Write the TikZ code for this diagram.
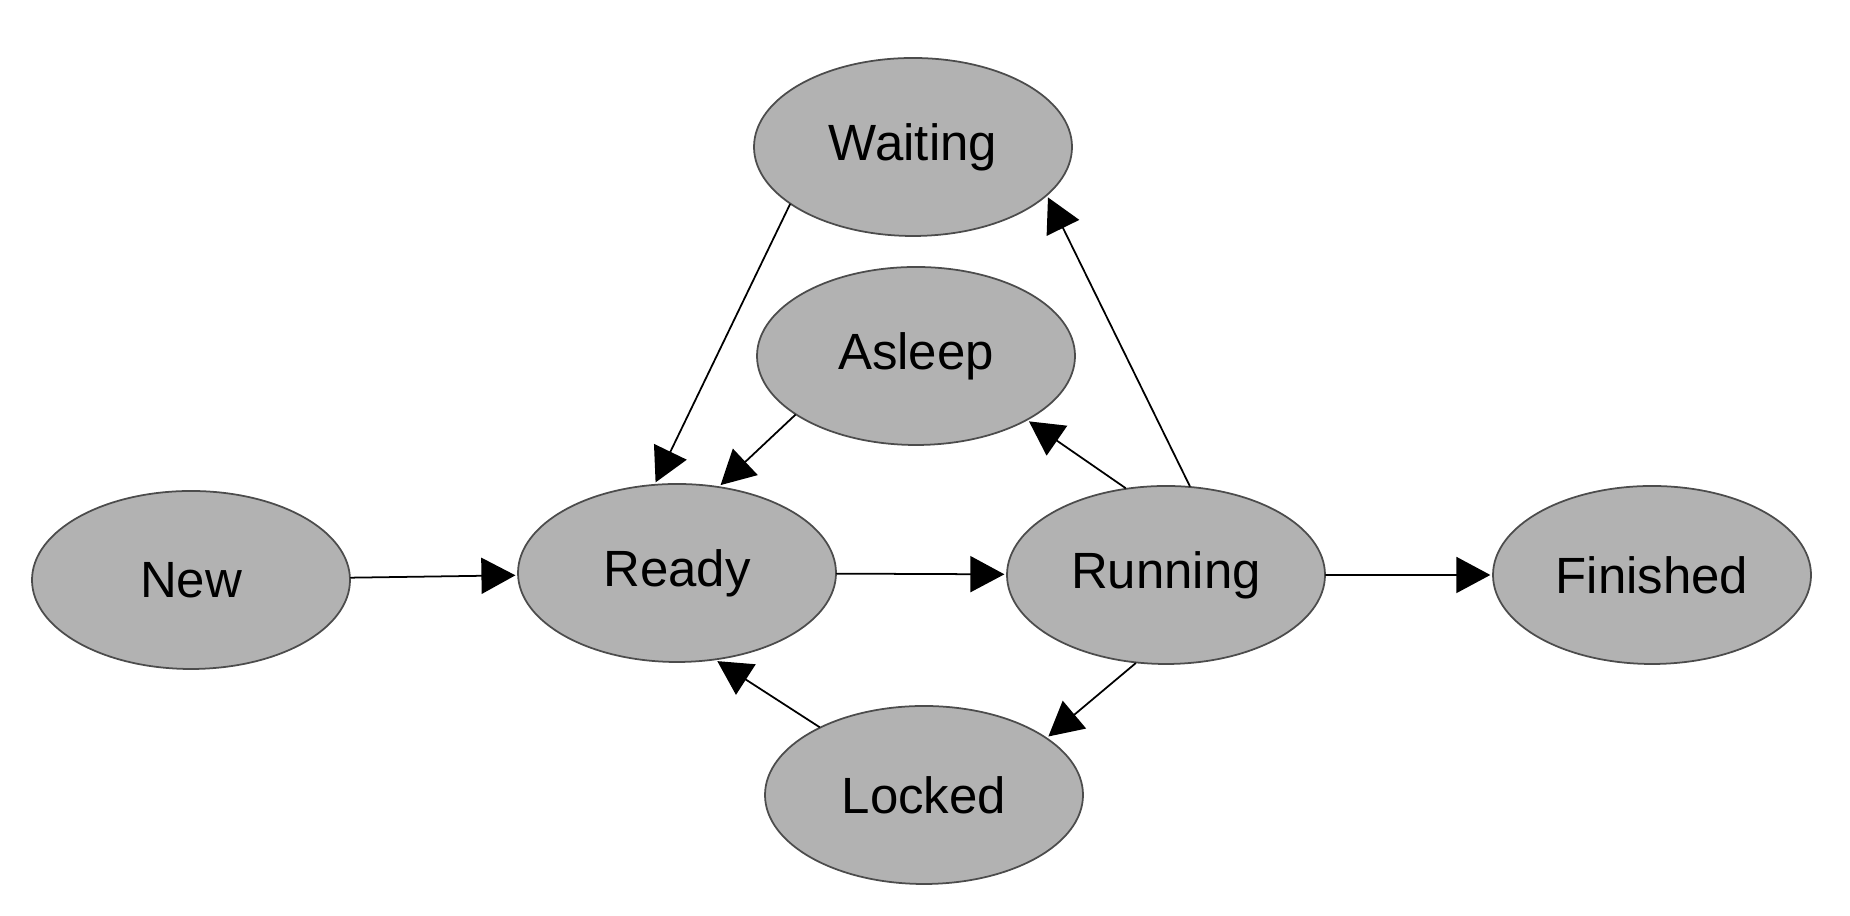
\documentclass[tikz,border=0pt]{standalone}
\usepackage{fontspec}
\setmainfont{Liberation Sans}
\usetikzlibrary{arrows.meta,shapes.geometric}
\definecolor{sqsqsq}{rgb}{0.7,0.7,0.7}
\definecolor{wwwwww}{rgb}{0.3,0.3,0.3}
\begin{document}
\begin{tikzpicture}[line cap=round,line join=round,>={Triangle[length=3.4mm,width=3.6mm]},x=1.0cm,y=1.0cm,
  state/.style={ellipse,draw=wwwwww,fill=sqsqsq,line width=0.5pt,inner sep=0pt,minimum width=3.18cm,minimum height=1.78cm,font=\fontsize{14.5}{17}\selectfont},
  trans/.style={->,line width=0.5pt,shorten >=0.5pt}]
\useasboundingbox (0,0) rectangle (18.5,9.16);
\node[state] (new) at (1.91,3.36) {New};
\node[state] (ready) at (6.77,3.43) {Ready};
\node[state] (running) at (11.66,3.41) {Running};
\node[state] (finished) at (16.52,3.41) {Finished};
\node[state] (waiting) at (9.13,7.69) {Waiting};
\node[state] (asleep) at (9.16,5.60) {Asleep};
\node[state] (locked) at (9.24,1.21) {Locked};
\draw [trans] (new) -- (ready);
\draw [trans] (ready) -- (running);
\draw [trans] (running) -- (finished);
\draw [trans] (waiting.205) -- (ready.104);
\draw [trans] (asleep.206) -- (ready.64);
\draw [trans] (running.115) -- (asleep.-30);
\draw [trans] (running.75) -- (waiting.-20);
\draw [trans] (running.-109) -- (locked.25);
\draw [trans] (locked.147) -- (ready.-66);
\end{tikzpicture}
\end{document}
